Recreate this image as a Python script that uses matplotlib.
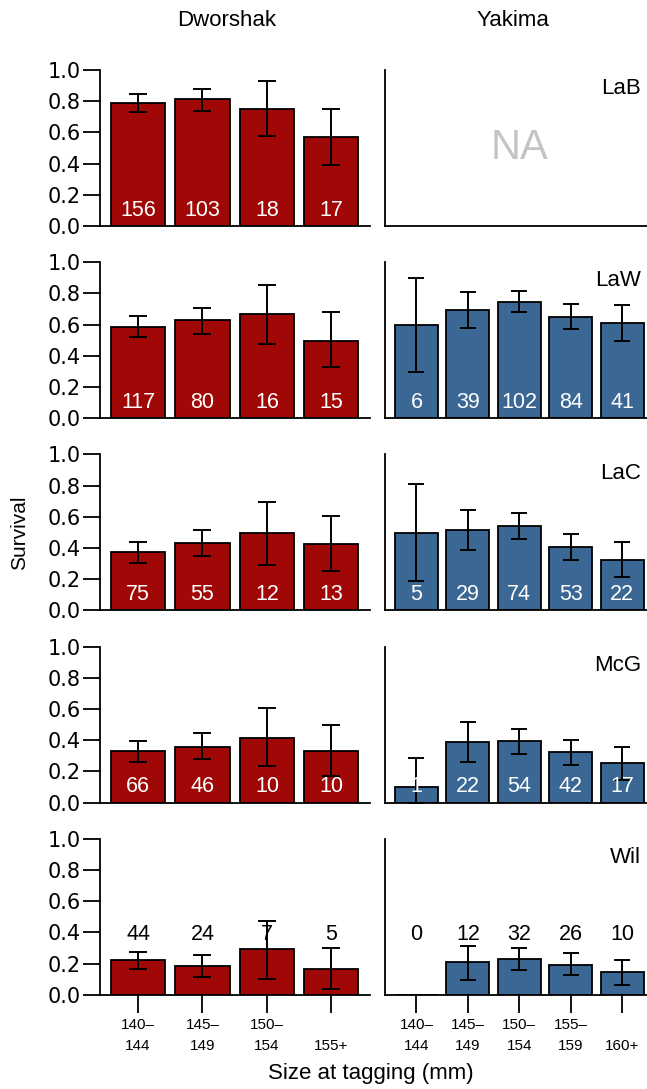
import numpy as np
import matplotlib
matplotlib.use("Agg")
import matplotlib.pyplot as plt

sites = ["LaB", "LaW", "LaC", "McG", "Wil"]

dwor_bins = ["140–\n144", "145–\n149", "150–\n154", "\n155+"]
yak_bins = ["140–\n144", "145–\n149", "150–\n154", "155–\n159", "\n160+"]

# Dworshak survival, lower / upper CI, number tagged
dwor_surv = [[0.787, 0.815, 0.753, 0.570],
             [0.585, 0.630, 0.667, 0.498],
             [0.372, 0.429, 0.496, 0.427],
             [0.332, 0.359, 0.414, 0.332],
             [0.221, 0.187, 0.294, 0.166]]
dwor_lo = [[0.731, 0.738, 0.576, 0.394],
           [0.519, 0.538, 0.474, 0.327],
           [0.306, 0.346, 0.293, 0.252],
           [0.262, 0.279, 0.233, 0.171],
           [0.166, 0.117, 0.102, 0.038]]
dwor_hi = [[0.843, 0.877, 0.929, 0.748],
           [0.652, 0.709, 0.855, 0.682],
           [0.438, 0.517, 0.694, 0.605],
           [0.393, 0.444, 0.605, 0.495],
           [0.277, 0.255, 0.472, 0.300]]
dwor_n = [[156, 103, 18, 17],
          [117, 80, 16, 15],
          [75, 55, 12, 13],
          [66, 46, 10, 10],
          [44, 24, 7, 5]]

# Yakima (no LaB data)
yak_surv = [None,
            [0.597, 0.693, 0.748, 0.650, 0.608],
            [0.498, 0.517, 0.541, 0.406, 0.325],
            [0.100, 0.386, 0.392, 0.326, 0.252],
            [0.0, 0.209, 0.232, 0.194, 0.145]]
yak_lo = [None,
          [0.294, 0.576, 0.678, 0.574, 0.496],
          [0.186, 0.385, 0.457, 0.325, 0.214],
          [0.0, 0.258, 0.311, 0.244, 0.142],
          [np.nan, 0.096, 0.162, 0.130, 0.066]]
yak_hi = [None,
          [0.898, 0.809, 0.816, 0.729, 0.725],
          [0.808, 0.645, 0.624, 0.491, 0.438],
          [0.286, 0.517, 0.470, 0.403, 0.354],
          [np.nan, 0.311, 0.301, 0.267, 0.226]]
yak_n = [None,
         [6, 39, 102, 84, 41],
         [5, 29, 74, 53, 22],
         [1, 22, 54, 42, 17],
         [0, 12, 32, 26, 10]]

RED = "#a00808"
BLUE = "#3a6793"
FONT = ["Liberation Sans", "DejaVu Sans"]

W, H = 647, 1089
fig = plt.figure(figsize=(W / 100, H / 100), dpi=100)


def style_axis(ax, bottom, yticks):
    for s in ["top", "right"]:
        ax.spines[s].set_visible(False)
    for s in ["left", "bottom"]:
        ax.spines[s].set_linewidth(1.3)
    ax.set_ylim(0, 1.0)
    if yticks:
        ax.set_yticks(np.arange(0, 1.01, 0.2))
        ax.set_yticklabels([f"{v:.1f}" for v in np.arange(0, 1.01, 0.2)],
                           fontsize=15, family="DejaVu Sans")
        ax.tick_params(axis="y", length=12, width=1.3, pad=2)
    else:
        ax.set_yticks([])
    if not bottom:
        ax.set_xticks([])


def draw_bars(ax, surv, lo, hi, n, color, capsize, above):
    x = np.arange(len(surv))
    surv = np.array(surv, dtype=float)
    err = np.array([surv - np.array(lo, dtype=float),
                    np.array(hi, dtype=float) - surv])
    ax.bar(x, surv, width=0.84, color=color, edgecolor="black", linewidth=1.3,
           zorder=2)
    ax.errorbar(x, surv, yerr=err, fmt="none", ecolor="black", elinewidth=1.4,
                capsize=capsize, capthick=1.4, zorder=3)
    for xi, ni in zip(x, n):
        if above:
            ax.text(xi, 0.385, str(ni), ha="center", va="center", fontsize=15.5,
                    color="black", family=FONT, zorder=4)
        else:
            ax.text(xi, 0.1, str(ni), ha="center", va="center", fontsize=15.5,
                    color="white", family=FONT, zorder=4)


for k, site in enumerate(sites):
    base = 226 + 192.2 * k
    bottom = 1 - base / H
    height = 156 / H
    last = k == len(sites) - 1

    axl = fig.add_axes([100 / W, bottom, 270 / W, height])
    draw_bars(axl, dwor_surv[k], dwor_lo[k], dwor_hi[k], dwor_n[k], RED, 6.5, last)
    axl.set_xlim(-0.59, 3.6)
    style_axis(axl, last, True)

    axr = fig.add_axes([385 / W, bottom, 262 / W, height])
    if yak_surv[k] is None:
        axr.text(2, 0.5, "NA", ha="center", va="center", fontsize=30,
                 color="#c4c4c4", family=FONT)
    else:
        draw_bars(axr, yak_surv[k], yak_lo[k], yak_hi[k], yak_n[k], BLUE, 5.5, last)
    axr.set_xlim(-0.61, 4.48)
    style_axis(axr, last, False)
    axr.text(0.977, 0.88, site, transform=axr.transAxes, ha="right",
             va="center", fontsize=16, family=FONT)

    if last:
        for ax, labels in [(axl, dwor_bins), (axr, yak_bins)]:
            ax.set_xticks(np.arange(len(labels)))
            ax.set_xticklabels(labels, fontsize=11, family=FONT, linespacing=1.6)
            ax.tick_params(axis="x", length=13, width=1.3, pad=4)

fig.text(227 / W, 1 - 21 / H, "Dworshak", ha="center", va="center",
         fontsize=16, family=FONT)
fig.text(513 / W, 1 - 21 / H, "Yakima", ha="center", va="center",
         fontsize=16, family=FONT)
fig.text(20 / W, 1 - 533 / H, "Survival", ha="center", va="center",
         rotation=90, fontsize=15, family=FONT)
fig.text(371 / W, 1 - 1073 / H, "Size at tagging (mm)", ha="center",
         va="center", fontsize=16, family=FONT)

fig.savefig("out.png", dpi=100)
